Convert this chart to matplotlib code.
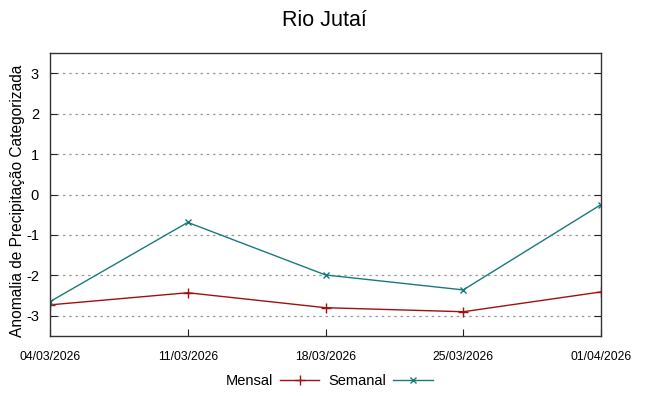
import matplotlib
matplotlib.use("Agg")
import matplotlib.pyplot as plt
import numpy as np

datas = ["04/03/2026", "11/03/2026", "18/03/2026", "25/03/2026", "01/04/2026"]
mensal = [-2.73, -2.43, -2.80, -2.90, -2.41]
semanal = [-2.65, -0.69, -1.99, -2.36, -0.25]
yticks = [-3, -2, -1, 0, 1, 2, 3]

plt.rcParams['font.family'] = ['Liberation Sans', 'DejaVu Sans']

fig = plt.figure(figsize=(6.49, 3.96), dpi=100)
ax = fig.add_axes([50 / 649, 60 / 396, 551 / 649, 283 / 396])

x = np.arange(len(datas))
ax.plot(x, mensal, color="#a01010", lw=1.0, marker="+", ms=7, mew=1.0, label="Mensal")
ax.plot(x, semanal, color="#1a7a7a", lw=1.0, marker="x", ms=5, mew=1.0, label="Semanal")

ax.set_xlim(0, len(datas) - 1)
ax.set_ylim(-3.5, 3.5)
ax.set_yticks(yticks)
ax.set_yticklabels([str(v) for v in yticks], fontsize=10.5)
ax.set_xticks(x)
ax.set_xticklabels(datas, fontsize=8.8, family=['Liberation Sans Narrow', 'Liberation Sans'])
ax.tick_params(axis="both", direction="in", length=5, right=True, top=False, color="#222222")
ax.tick_params(axis="x", pad=11)
ax.tick_params(axis="y", pad=8)
ax.yaxis.grid(True, ls=(0, (2, 3)), color="#999999", lw=0.9)
for s in ax.spines.values():
    s.set_color("#333333")
    s.set_linewidth(1.0)

fig.text(18 / 649, 1 - 201 / 396, "Anomalia de Precipitação Categorizada", fontsize=11.2,
         rotation=90, ha="center", va="center")
fig.suptitle("Rio Jutaí", fontsize=15.5, y=0.975)

fig.legend(loc="center", bbox_to_anchor=(329 / 649, 1 - 381 / 396), ncol=2, frameon=False,
           fontsize=10.5, handlelength=2.7, columnspacing=0.6, handletextpad=0.5,
           markerfirst=False)

fig.savefig("out.png", dpi=100)
